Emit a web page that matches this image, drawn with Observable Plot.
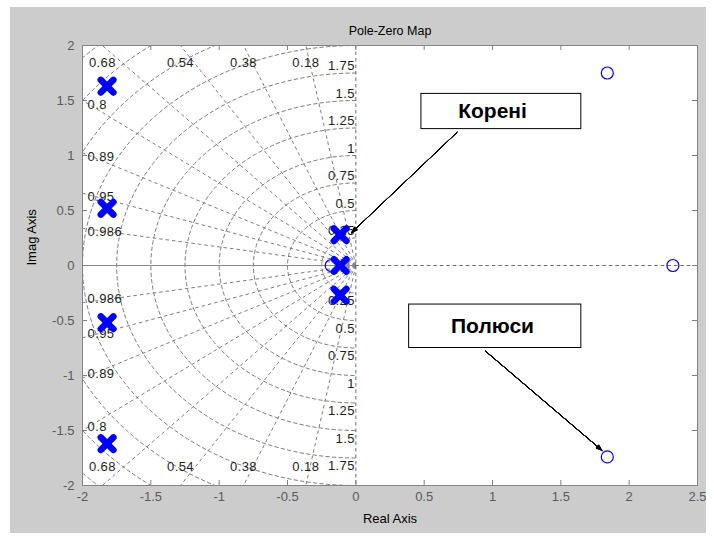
<!DOCTYPE html>
<html>
<head>
<meta charset="utf-8">
<script src="https://cdn.jsdelivr.net/npm/d3@7"></script>
<script src="https://cdn.jsdelivr.net/npm/@observablehq/plot@0.6"></script>
<style>
  html, body { margin: 0; padding: 0; background: #ffffff; }
  #chart { position: absolute; left: 10px; top: 7px; }
  #chart g[aria-label="axis tick label"] text, #chart g.num text { letter-spacing: 0.4px; }
</style>
</head>
<body>
<div id="chart"></div>
<script>
// ---- data ----
const xTicks = [-2, -1.5, -1, -0.5, 0, 0.5, 1, 1.5, 2, 2.5];
const yTicks = [-2, -1.5, -1, -0.5, 0, 0.5, 1, 1.5, 2];

// "Корені" markers (x)
const rootsRe = [-1.82, -1.82, -1.82, -1.82, -0.115, -0.115, -0.115];
const rootsIm = [1.63, 0.52, -0.52, -1.62, 0.28, 0, -0.27];

// "Полюси" markers (o)
const polesRe = [1.84, 1.84, 2.32, -0.18];
const polesIm = [1.75, -1.74, 0, 0];

// grid: natural frequencies and damping ratios
const wnValues = [0.25, 0.5, 0.75, 1, 1.25, 1.5, 1.75, 2, 2.25, 2.5, 2.75];
const zetaValues = [0.18, 0.38, 0.54, 0.68, 0.8, 0.89, 0.95, 0.986];

// annotations
const noteLabels = ["Корені", "Полюси"];
const noteBoxX1 = [0.48, 0.39];
const noteBoxX2 = [1.65, 1.65];
const noteBoxY1 = [1.24, -0.75];
const noteBoxY2 = [1.56, -0.355];
const noteTextX = [1.0, 1.0];
const noteTextY = [1.40, -0.555];
const arrowX1 = [0.74, 0.95];
const arrowY1 = [1.21, -0.78];
const arrowX2 = [-0.03, 1.80];
const arrowY2 = [0.30, -1.68];

// ---- derived tables ----
const roots = rootsRe.map((x, i) => ({x, y: rootsIm[i]}));
const poles = polesRe.map((x, i) => ({x, y: polesIm[i]}));
const notes = noteLabels.map((label, i) => ({
  label, x1: noteBoxX1[i], x2: noteBoxX2[i], y1: noteBoxY1[i], y2: noteBoxY2[i],
  tx: noteTextX[i], ty: noteTextY[i],
  ax1: arrowX1[i], ay1: arrowY1[i], ax2: arrowX2[i], ay2: arrowY2[i]
}));

const arcs = wnValues.flatMap(r => d3.range(90, 271, 2).map(a => ({
  r, x: r * Math.cos(a * Math.PI / 180), y: r * Math.sin(a * Math.PI / 180)
})));
const R = 4;
const rays = zetaValues.flatMap(z => [1, -1].map(s => ({
  z, x2: -z * R, y2: s * Math.sqrt(1 - z * z) * R
})));
// damping labels where each ray meets the frame
const zetaLabels = zetaValues.flatMap(z => [1, -1].map(s => {
  const t = Math.sqrt(1 - z * z) / z; // |y/x|
  if (t > 1) return {z, s, side: "edge", x: -2 / t, y: 2 * s};
  return {z, s, side: "left", x: -2, y: 2 * t * s};
}));
const wnLabels = wnValues.filter(r => r < 2).flatMap(r => [1, -1].map(s => ({r, s, y: r * s})));

const gridColor = "#7d7d7d";
const W = 696, H = 526;
const mL = 72, mR = 9, mT = 38, mB = 48;
const pw = W - mL - mR, ph = H - mT - mB;

const blue = "#0000ff";
const fontFam = "'Liberation Sans', Arial, sans-serif";
const labFill = "#1e1e1e";
const fs = 13;

const arrowAngles = [6, 12, 18, 24, 30, 36, 42];

const plot = Plot.plot({
  width: W,
  height: H,
  marginLeft: mL, marginRight: mR, marginTop: mT, marginBottom: mB,
  style: {background: "#cccccc", fontFamily: fontFam, fontSize: "13px", color: "#000"},
  x: {domain: [-2, 2.5], ticks: xTicks, label: null},
  y: {domain: [-2, 2], ticks: yTicks, label: null},
  marks: [
    Plot.frame({fill: "white", stroke: "none"}),
    // natural frequency arcs
    Plot.line(arcs, {x: "x", y: "y", z: "r", stroke: gridColor, strokeWidth: 1, strokeDasharray: "3.5,3", clip: true}),
    // damping rays
    Plot.link(rays, {x1: d => 0, y1: d => 0, x2: "x2", y2: "y2", stroke: gridColor, strokeWidth: 1, strokeDasharray: "3.5,3", clip: true}),
    // axes lines
    Plot.ruleX([0], {stroke: "#6a6a6a", strokeDasharray: "3.5,3"}),
    Plot.ruleY([0], {x1: -2, x2: 0, stroke: "#8a8a8a"}),
    Plot.ruleY([0], {x1: 0, x2: 2.5, stroke: "#6a6a6a", strokeDasharray: "3.5,3"}),
    // wn labels along imaginary axis
    Plot.text(wnLabels.filter(d => d.s > 0), {x: d => 0, y: "y", text: d => String(d.r), textAnchor: "end", dx: -1, dy: -7, fill: labFill, fontSize: fs, className: "num"}),
    Plot.text(wnLabels.filter(d => d.s < 0), {x: d => 0, y: "y", text: d => String(d.r), textAnchor: "end", dx: -1, dy: 8, fill: labFill, fontSize: fs, className: "num"}),
    // zeta labels
    Plot.text(zetaLabels.filter(d => d.side === "edge" && d.s > 0), {x: "x", y: "y", text: d => String(d.z), dy: 17, fill: labFill, fontSize: fs, className: "num"}),
    Plot.text(zetaLabels.filter(d => d.side === "edge" && d.s < 0), {x: "x", y: "y", text: d => String(d.z), dy: -19, fill: labFill, fontSize: fs, className: "num"}),
    Plot.text(zetaLabels.filter(d => d.side === "left" && d.s > 0), {x: "x", y: "y", text: d => String(d.z), textAnchor: "start", dx: 5, dy: 4, fill: labFill, fontSize: fs, className: "num"}),
    Plot.text(zetaLabels.filter(d => d.side === "left" && d.s < 0), {x: "x", y: "y", text: d => String(d.z), textAnchor: "start", dx: 5, dy: -4, fill: labFill, fontSize: fs, className: "num"}),
    // inward ticks
    Plot.tickX(xTicks, {x: d => d, insetTop: ph - 5, stroke: "#808080"}),
    Plot.tickX(xTicks, {x: d => d, insetBottom: ph - 5, stroke: "#808080"}),
    Plot.tickY(yTicks, {y: d => d, insetRight: pw - 5, stroke: "#808080"}),
    Plot.tickY(yTicks, {y: d => d, insetLeft: pw - 5, stroke: "#808080"}),
    Plot.axisX({tickSize: 0, tickPadding: 6, color: "#5a5a5a", fontSize: fs, label: null, tickFormat: d => String(d)}),
    Plot.axisY({tickSize: 0, tickPadding: 8, color: "#5a5a5a", fontSize: fs, label: null, tickFormat: d => String(d)}),
    // markers
    Plot.dot(poles, {x: "x", y: "y", r: 6, stroke: blue, strokeWidth: 1.2, fill: "none"}),
    Plot.dot(roots, {x: "x", y: "y", r: 5.8, symbol: "times", stroke: blue, strokeWidth: 6.5, strokeLinecap: "round"}),
    // annotations
    ...arrowAngles.map(a => Plot.arrow(notes, {x1: "ax1", y1: "ay1", x2: "ax2", y2: "ay2", stroke: "#000", strokeWidth: 1, headAngle: a, headLength: 9})),
    Plot.rect(notes, {x1: "x1", x2: "x2", y1: "y1", y2: "y2", fill: "white", stroke: "#000", strokeWidth: 1}),
    Plot.text(notes, {x: "tx", y: "ty", text: "label", fontSize: 21, fontWeight: "bold", fill: "#000"}),
    Plot.frame({stroke: "#858585"}),
    // titles
    Plot.text(["Pole-Zero Map"], {frameAnchor: "top", dy: -19, fontSize: 12.5, fill: "#000"}),
    Plot.text(["Real Axis"], {frameAnchor: "bottom", dy: 37, fontSize: 13, fill: "#000"}),
    Plot.text(["Imag Axis"], {frameAnchor: "left", dx: -51, rotate: -90, fontSize: 13, fill: "#000"})
  ]
});
document.getElementById("chart").appendChild(plot);
</script>
</body>
</html>
